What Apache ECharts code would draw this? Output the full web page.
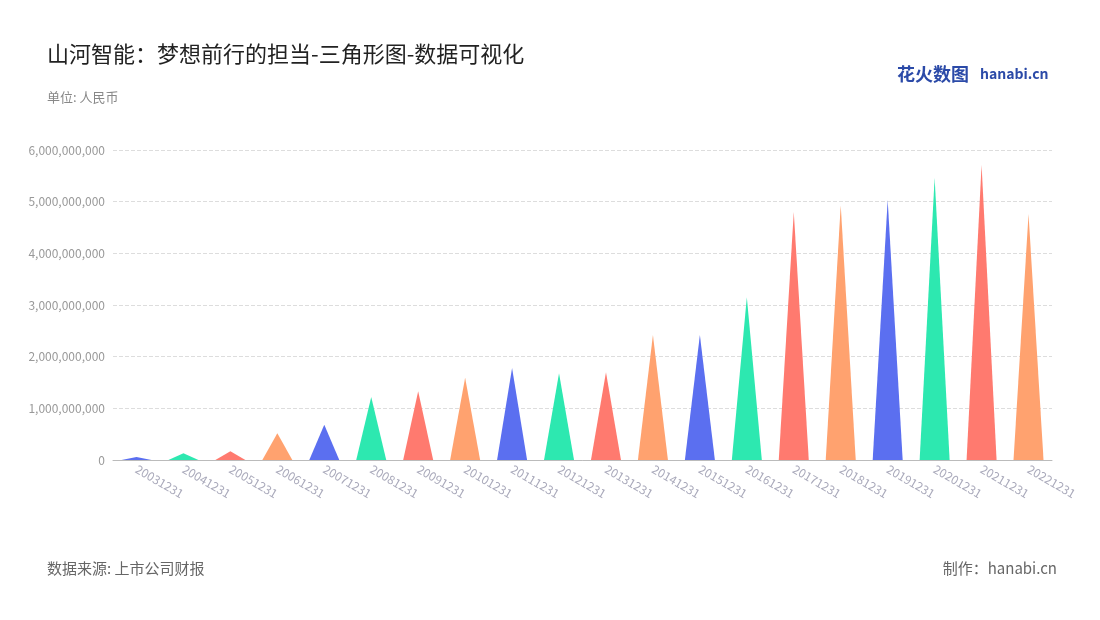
<!DOCTYPE html>
<html><head><meta charset="utf-8">
<script src="https://cdn.jsdelivr.net/npm/echarts@6/dist/echarts.min.js"></script>
<style>body{margin:0}#c{width:1100px;height:620px}</style></head>
<body><div id="c"></div>
<script>
const categories=['20031231','20041231','20051231','20061231','20071231','20081231','20091231','20101231','20111231','20121231','20131231','20141231','20151231','20161231','20171231','20181231','20191231','20201231','20211231','20221231'];
const values=[60000000,130000000,170000000,520000000,680000000,1220000000,1330000000,1590000000,1780000000,1680000000,1700000000,2420000000,2420000000,3150000000,4800000000,4930000000,5030000000,5460000000,5710000000,4760000000];
const palette=['#5b6ff0','#2de8b0','#ff7a6f','#ffa26f'];
const chart=echarts.init(document.getElementById('c'));
chart.setOption({
 backgroundColor:'#fff',
 textStyle:{fontFamily:'Noto Sans CJK SC'},
 title:[{text:'山河智能：梦想前行的担当-三角形图-数据可视化',left:42,top:38,textStyle:{fontSize:22,fontWeight:'normal',color:'#222'}},
  {text:'单位: 人民币',left:42,top:86,textStyle:{fontSize:13,fontWeight:'normal',color:'#888'}},
  {text:'数据来源: 上市公司财报',left:42,top:556,textStyle:{fontSize:15,fontWeight:'normal',color:'#666'}},
  {text:'制作：hanabi.cn',right:38,top:556,textStyle:{fontSize:15,fontWeight:'normal',color:'#666'}},
  {text:'花火数图',left:892,top:60,textStyle:{fontSize:18,fontWeight:'bold',color:'#2b4aa8'}},
  {text:'hanabi.cn',left:975,top:62,textStyle:{fontSize:14,fontWeight:'bold',color:'#2b4aa8'}}],
 grid:{left:113,right:48,top:150,bottom:160},
 xAxis:{type:'category',data:categories,axisTick:{show:false},axisLine:{lineStyle:{color:'#bbb'}},
  axisLabel:{rotate:-30,color:'#aab',fontSize:12,interval:0}},
 yAxis:{type:'value',min:0,max:6000000000,interval:1000000000,
  axisLabel:{color:'#999',fontSize:12,formatter:v=>v.toLocaleString('en-US')},
  splitLine:{lineStyle:{type:'dashed',color:'#ddd'}}},
 series:[{type:'pictorialBar',symbol:'path://M0,10 L5,0 L10,10 Z',symbolSize:[30,'100%'],
  data:values.map((v,i)=>({value:v,itemStyle:{color:palette[i%4]}}))}]
});
</script></body></html>
